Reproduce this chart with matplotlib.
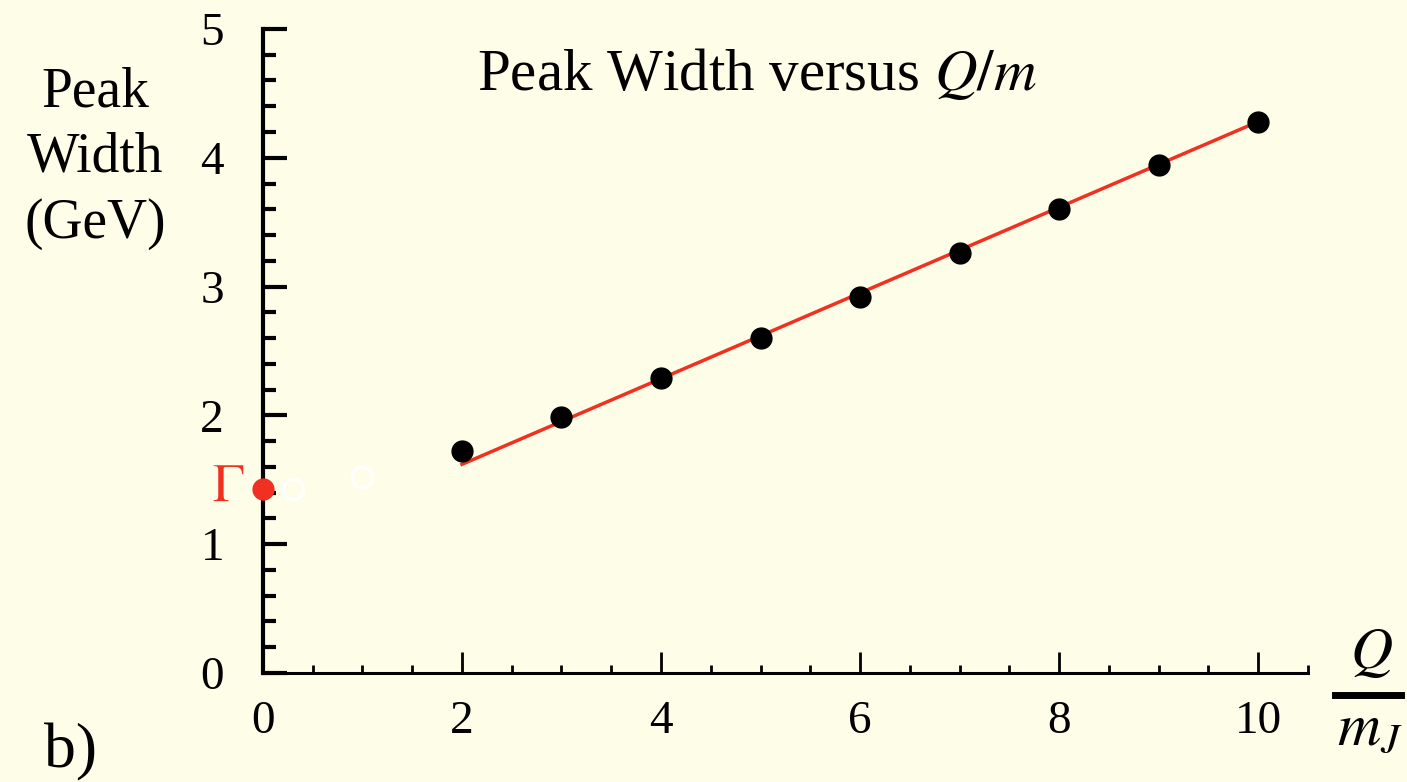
import matplotlib
matplotlib.use("Agg")
import matplotlib.pyplot as plt
from matplotlib.ticker import MultipleLocator
from matplotlib.lines import Line2D

plt.rcParams['font.family'] = ['Liberation Serif', 'DejaVu Serif']
plt.rcParams['mathtext.fontset'] = 'stix'

# Measured peak widths versus Q/m
qm = [2, 3, 4, 5, 6, 7, 8, 9, 10]
width = [1.72, 1.99, 2.29, 2.60, 2.92, 3.26, 3.60, 3.94, 4.28]

# Straight-line fit endpoints
fit_x = [2, 10]
fit_y = [1.62, 4.28]

# Intrinsic width Gamma and extrapolated (open) points
gamma_x = [0]
gamma_y = [1.43]
open_x = [0.3, 1.0]
open_y = [1.43, 1.52]

W, H = 1407, 782
bg = '#FEFDE8'
red = '#F03020'
fig = plt.figure(figsize=(W / 100, H / 100), dpi=100, facecolor=bg)
ax = fig.add_axes([0.1869, 0.1394, 0.7426, 0.8236], facecolor=bg)

ax.plot(fit_x, fit_y, color=red, lw=2.5, zorder=2)
ax.plot(qm, width, 'o', color='black', ms=15, zorder=3)
ax.plot(gamma_x, gamma_y, 'o', color=red, ms=15, zorder=4, clip_on=False)
ax.plot(open_x, open_y, 'o', mfc='none', mec='white', mew=2.4, ms=14.5, zorder=3)

ax.set_xlim(0, 10.5)
ax.set_ylim(0, 5)
for s in ['top', 'right']:
    ax.spines[s].set_visible(False)
ax.spines['left'].set_linewidth(3)
ax.spines['bottom'].set_linewidth(2.2)

ax.xaxis.set_major_locator(MultipleLocator(2))
ax.xaxis.set_minor_locator(MultipleLocator(0.5))
ax.yaxis.set_major_locator(MultipleLocator(1))
ax.yaxis.set_minor_locator(MultipleLocator(0.2))
ax.tick_params(axis='y', which='major', direction='in', length=17, width=3,
               labelsize=34, pad=28)
ax.tick_params(axis='y', which='minor', direction='in', length=9, width=3)
ax.tick_params(axis='x', which='major', direction='in', length=15, width=2,
               labelsize=34, pad=20)
ax.tick_params(axis='x', which='minor', direction='in', length=6, width=2)


def fx(px):
    return px / W


def fy(py):
    return 1 - py / H


fig.text(fx(757), fy(75), 'Peak Width versus $Q/m$', fontsize=42.5,
         ha='center', va='center')
fig.text(fx(95), fy(158), 'Peak\nWidth\n(GeV)', fontsize=40, ha='center',
         va='center', linespacing=1.34)
fig.text(fx(70), fy(752), 'b)', fontsize=46, ha='center', va='center')
fig.text(fx(228), fy(488), r'$\Gamma$', fontsize=38, color=red,
         ha='center', va='center')

# Axis quantity drawn as a stacked fraction Q / m_J
fig.text(fx(1371), fy(668), r'$Q$', fontsize=42, ha='center', va='baseline')
fig.add_artist(Line2D([fx(1335), fx(1401)], [fy(695), fy(695)],
                      color='black', lw=5, transform=fig.transFigure))
fig.text(fx(1370), fy(745), r'$m_J$', fontsize=43, ha='center', va='baseline')

fig.savefig('out.png', dpi=100, facecolor=bg)
